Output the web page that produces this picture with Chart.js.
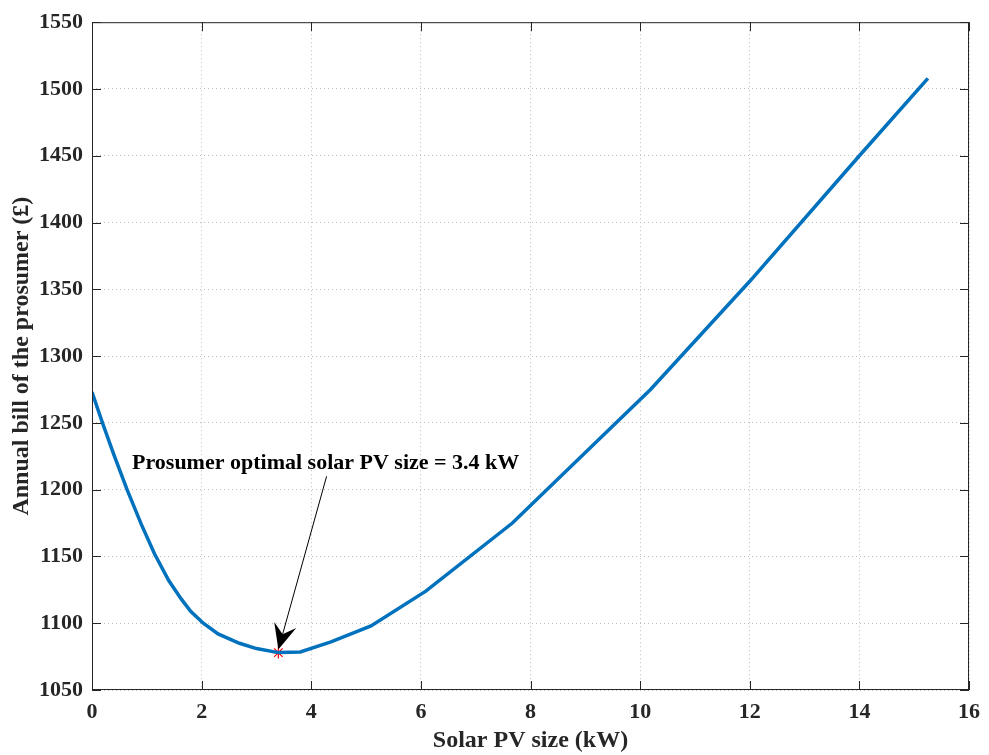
<!DOCTYPE html>
<html>
<head>
<meta charset="utf-8">
<script src="https://cdn.jsdelivr.net/npm/chart.js@4/dist/chart.umd.min.js"></script>
<style>
  html, body { margin: 0; padding: 0; background: #fff; }
  #wrap { width: 989px; height: 755px; }
</style>
</head>
<body>
<div id="wrap"><canvas id="billChart" width="989" height="755"></canvas></div>
<script>
// Solar PV size (kW) vs annual bill (£)
const pvSize = [0, 0.2, 0.4, 0.64, 0.9, 1.14, 1.4, 1.63, 1.8, 2.03, 2.3, 2.69, 3.0, 3.4, 3.8, 4.36, 5.09, 6.09, 7.67, 10.19, 12, 14, 15.25];
const annualBill = [1273, 1249, 1226, 1200, 1174, 1152, 1132, 1118, 1109, 1100, 1092, 1085, 1081, 1078, 1078.5, 1086, 1098, 1124, 1175, 1275, 1356, 1450, 1508];

const optimalSize = 3.4;
const optimalBill = 1078;

const xTicks = [0, 2, 4, 6, 8, 10, 12, 14, 16];
const yTicks = [1050, 1100, 1150, 1200, 1250, 1300, 1350, 1400, 1450, 1500, 1550];

const annotationText = 'Prosumer optimal solar PV size = 3.4 kW';
const annotationPos = { x: 0.73, y: 1220 };
const arrowStart = { x: 4.28, y: 1210 };

const serif = '"Liberation Serif", "Times New Roman", serif';

// box around the axes plus inward tick marks on all four sides, MATLAB style
const boxPlugin = {
    id: 'box',
    afterDraw(chart) {
        const { ctx, chartArea: a, scales: { x, y } } = chart;
        ctx.save();
        ctx.strokeStyle = '#262626';
        ctx.lineWidth = 1;
        ctx.strokeRect(a.left + 0.5, a.top + 0.5, a.right - a.left - 1, a.bottom - a.top - 1);
        const len = 9;
        ctx.beginPath();
        xTicks.forEach(v => {
            const px = Math.round(x.getPixelForValue(v)) + 0.5;
            ctx.moveTo(px, a.bottom); ctx.lineTo(px, a.bottom - len);
            ctx.moveTo(px, a.top); ctx.lineTo(px, a.top + len);
        });
        yTicks.forEach(v => {
            const py = Math.round(y.getPixelForValue(v)) + 0.5;
            ctx.moveTo(a.left, py); ctx.lineTo(a.left + len, py);
            ctx.moveTo(a.right, py); ctx.lineTo(a.right - len, py);
        });
        ctx.stroke();

        // annotation text + arrow to the optimum
        ctx.fillStyle = '#000';
        ctx.font = 'bold 22px ' + serif;
        ctx.textBaseline = 'middle';
        ctx.fillText(annotationText, x.getPixelForValue(annotationPos.x), y.getPixelForValue(annotationPos.y));

        const sx = x.getPixelForValue(arrowStart.x), sy = y.getPixelForValue(arrowStart.y);
        const ex = x.getPixelForValue(optimalSize), ey = y.getPixelForValue(optimalBill) - 3;
        const ang = Math.atan2(ey - sy, ex - sx);
        ctx.strokeStyle = '#000';
        ctx.lineWidth = 1;
        ctx.beginPath();
        ctx.moveTo(sx, sy);
        ctx.lineTo(ex - 16 * Math.cos(ang), ey - 16 * Math.sin(ang));
        ctx.stroke();
        const hl = 28, hw = 0.42;
        ctx.beginPath();
        ctx.moveTo(ex, ey);
        ctx.lineTo(ex - hl * Math.cos(ang - hw), ey - hl * Math.sin(ang - hw));
        ctx.lineTo(ex - 16 * Math.cos(ang), ey - 16 * Math.sin(ang));
        ctx.lineTo(ex - hl * Math.cos(ang + hw), ey - hl * Math.sin(ang + hw));
        ctx.closePath();
        ctx.fill();
        ctx.restore();
    }
};

new Chart(document.getElementById('billChart'), {
    type: 'scatter',
    data: {
        datasets: [{
            data: pvSize.map((v, i) => ({ x: v, y: annualBill[i] })),
            showLine: true,
            borderColor: '#0072BD',
            borderWidth: 3.5,
            pointRadius: 0,
            tension: 0
        }, {
            data: [{ x: optimalSize, y: optimalBill }],
            pointStyle: 'star',
            pointRadius: 6,
            borderColor: '#ff0000',
            borderWidth: 1.2,
            backgroundColor: '#ff0000'
        }]
    },
    options: {
        responsive: false,
        animation: false,
        layout: { padding: { top: 17, right: 18, left: 0, bottom: 0 } },
        plugins: { legend: { display: false }, tooltip: { enabled: false } },
        scales: {
            x: {
                type: 'linear',
                min: 0, max: 16,
                afterFit: s => { s.height = 65; },
                afterBuildTicks: s => { s.ticks = xTicks.map(v => ({ value: v })); },
                grid: { color: '#bdbdbd', drawTicks: false },
                border: { display: false, dash: [1, 3] },
                ticks: {
                    color: '#262626', padding: 9,
                    font: { family: serif, size: 22, weight: 'bold' },
                    callback: v => String(v)
                },
                title: {
                    display: true, text: 'Solar PV size (kW)', color: '#262626',
                    padding: { top: 0, bottom: 0 },
                    font: { family: serif, size: 24, weight: 'bold' }
                }
            },
            y: {
                min: 1050, max: 1550,
                afterFit: s => { s.width = 92; },
                afterBuildTicks: s => { s.ticks = yTicks.map(v => ({ value: v })); },
                grid: { color: '#bdbdbd', drawTicks: false },
                border: { display: false, dash: [1, 3] },
                ticks: {
                    color: '#262626', padding: 9,
                    font: { family: serif, size: 22, weight: 'bold' },
                    callback: v => String(v)
                },
                title: {
                    display: true, text: 'Annual bill of the prosumer (£)', color: '#262626',
                    padding: { top: 7, bottom: 0 },
                    font: { family: serif, size: 24, weight: 'bold' }
                }
            }
        }
    },
    plugins: [boxPlugin]
});
</script>
</body>
</html>
